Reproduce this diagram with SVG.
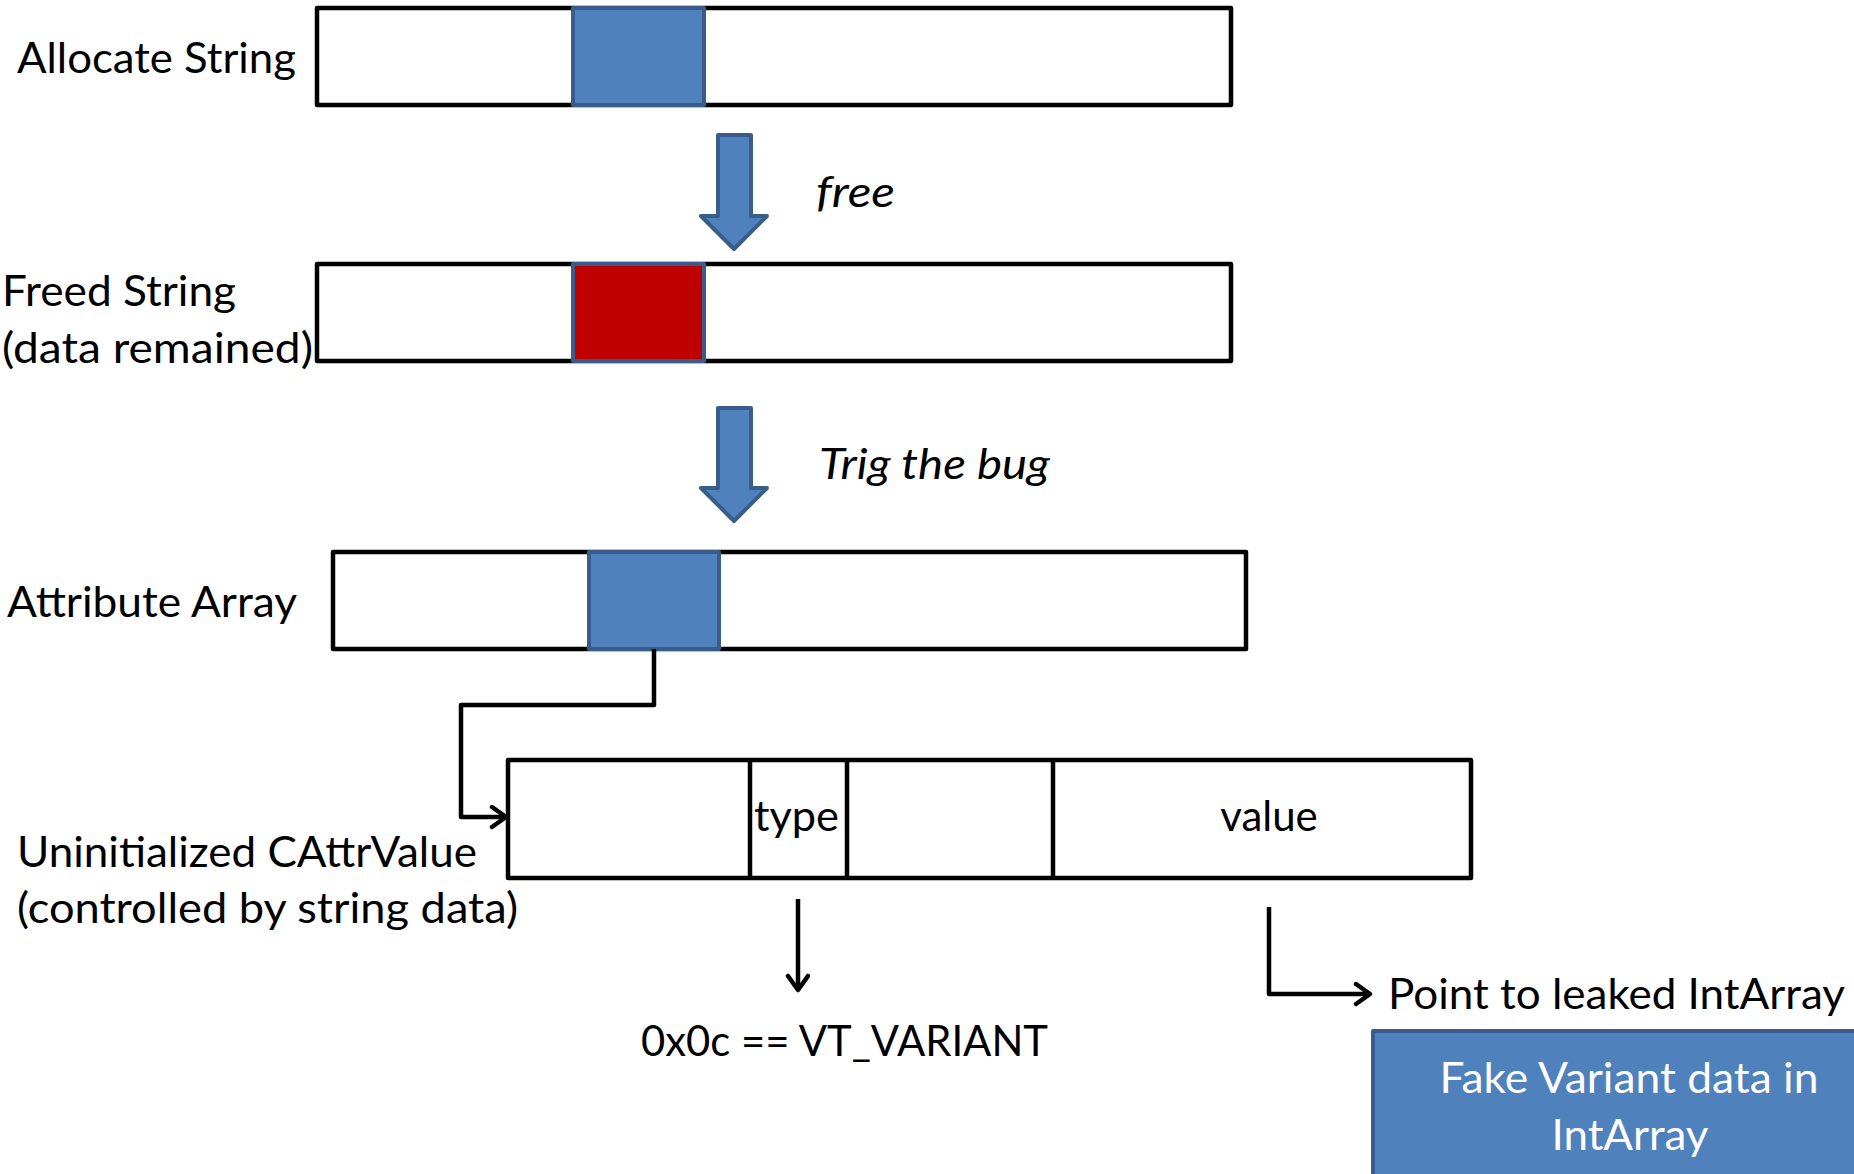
<svg xmlns="http://www.w3.org/2000/svg" width="1854" height="1174" viewBox="0 0 1854 1174">
<style>
.box{fill:#fff;stroke:#000;stroke-width:4.5;stroke-linejoin:round}
.blk{fill:#4F81BD;stroke:#385D8A;stroke-width:4;stroke-linejoin:round}
.red{fill:#C00000;stroke:#385D8A;stroke-width:4;stroke-linejoin:round}
.div{stroke:#000;stroke-width:4.5}
.con{fill:none;stroke:#000;stroke-width:4.5;stroke-linejoin:round}
.t{font-family:Lato,"Open Sans","Liberation Sans",sans-serif;font-size:42px;fill:#000}
.it{font-style:italic}
.w{fill:#fff}
</style>
<defs>
<marker id="ah" markerUnits="userSpaceOnUse" markerWidth="24" markerHeight="28" refX="18" refY="12" orient="auto">
<path d="M4,2 L18,12 L4,22" fill="none" stroke="#000" stroke-width="4.5" stroke-linecap="round" stroke-linejoin="round"/>
</marker>
</defs>
<rect width="1854" height="1174" fill="#fff"/>

<g id="allocate-string">
<rect class="box" x="317" y="8" width="914" height="97"/>
<rect class="blk" x="573" y="8" width="131" height="97"/>
<text class="t" x="17" y="73" textLength="279" lengthAdjust="spacingAndGlyphs">Allocate String</text>
</g>

<g id="arrow-free">
<path class="blk" d="M718,135 L751,135 L751,216 L767,216 L734,249 L701,216 L718,216 Z"/>
<text class="t it" x="816" y="207" textLength="79" lengthAdjust="spacingAndGlyphs">free</text>
</g>

<g id="freed-string">
<rect class="box" x="317" y="264" width="914" height="97"/>
<rect class="red" x="573" y="264" width="131" height="97"/>
<text class="t" x="2" y="306" textLength="234" lengthAdjust="spacingAndGlyphs">Freed String</text>
<text class="t" x="2" y="363" textLength="311" lengthAdjust="spacingAndGlyphs">(data remained)</text>
</g>

<g id="arrow-trig">
<path class="blk" d="M718,408 L751,408 L751,488 L767,488 L734,521 L701,488 L718,488 Z"/>
<text class="t it" x="819" y="479" textLength="231" lengthAdjust="spacingAndGlyphs">Trig the bug</text>
</g>

<g id="attribute-array">
<rect class="box" x="333" y="552" width="913" height="97"/>
<rect class="blk" x="589" y="552" width="130" height="97"/>
<text class="t" x="7" y="617" textLength="290" lengthAdjust="spacingAndGlyphs">Attribute Array</text>
</g>

<g id="cattrvalue">
<rect class="box" x="508" y="760" width="963" height="118"/>
<line class="div" x1="750" y1="760" x2="750" y2="878"/>
<line class="div" x1="847" y1="760" x2="847" y2="878"/>
<line class="div" x1="1053" y1="760" x2="1053" y2="878"/>
<text class="t" x="754" y="831" textLength="85" lengthAdjust="spacingAndGlyphs">type</text>
<text class="t" x="1269" y="831" text-anchor="middle">value</text>
<text class="t" x="17" y="867" textLength="460" lengthAdjust="spacingAndGlyphs">Uninitialized CAttrValue</text>
<text class="t" x="17" y="923" textLength="501" lengthAdjust="spacingAndGlyphs">(controlled by string data)</text>
</g>

<g id="vt-variant">
<text class="t" x="641" y="1056" textLength="407" lengthAdjust="spacingAndGlyphs">0x0c == VT_VARIANT</text>
</g>

<g id="point-to">
<text class="t" x="1388" y="1009" textLength="457" lengthAdjust="spacingAndGlyphs">Point to leaked IntArray</text>
</g>

<g id="fake-variant">
<rect class="blk" x="1373" y="1031" width="490" height="160"/>
<text class="t w" x="1629" y="1093" text-anchor="middle" textLength="379" lengthAdjust="spacingAndGlyphs">Fake Variant data in</text>
<text class="t w" x="1630" y="1150" text-anchor="middle" textLength="157" lengthAdjust="spacingAndGlyphs">IntArray</text>
</g>

<g id="connectors">
<path class="con" d="M654,649 L654,705 L461,705 L461,817 L506,817" marker-end="url(#ah)"/>
<path class="con" d="M798,899 L798,990" marker-end="url(#ah)"/>
<path class="con" d="M1269,907 L1269,994 L1370,994" marker-end="url(#ah)"/>
</g>
</svg>
